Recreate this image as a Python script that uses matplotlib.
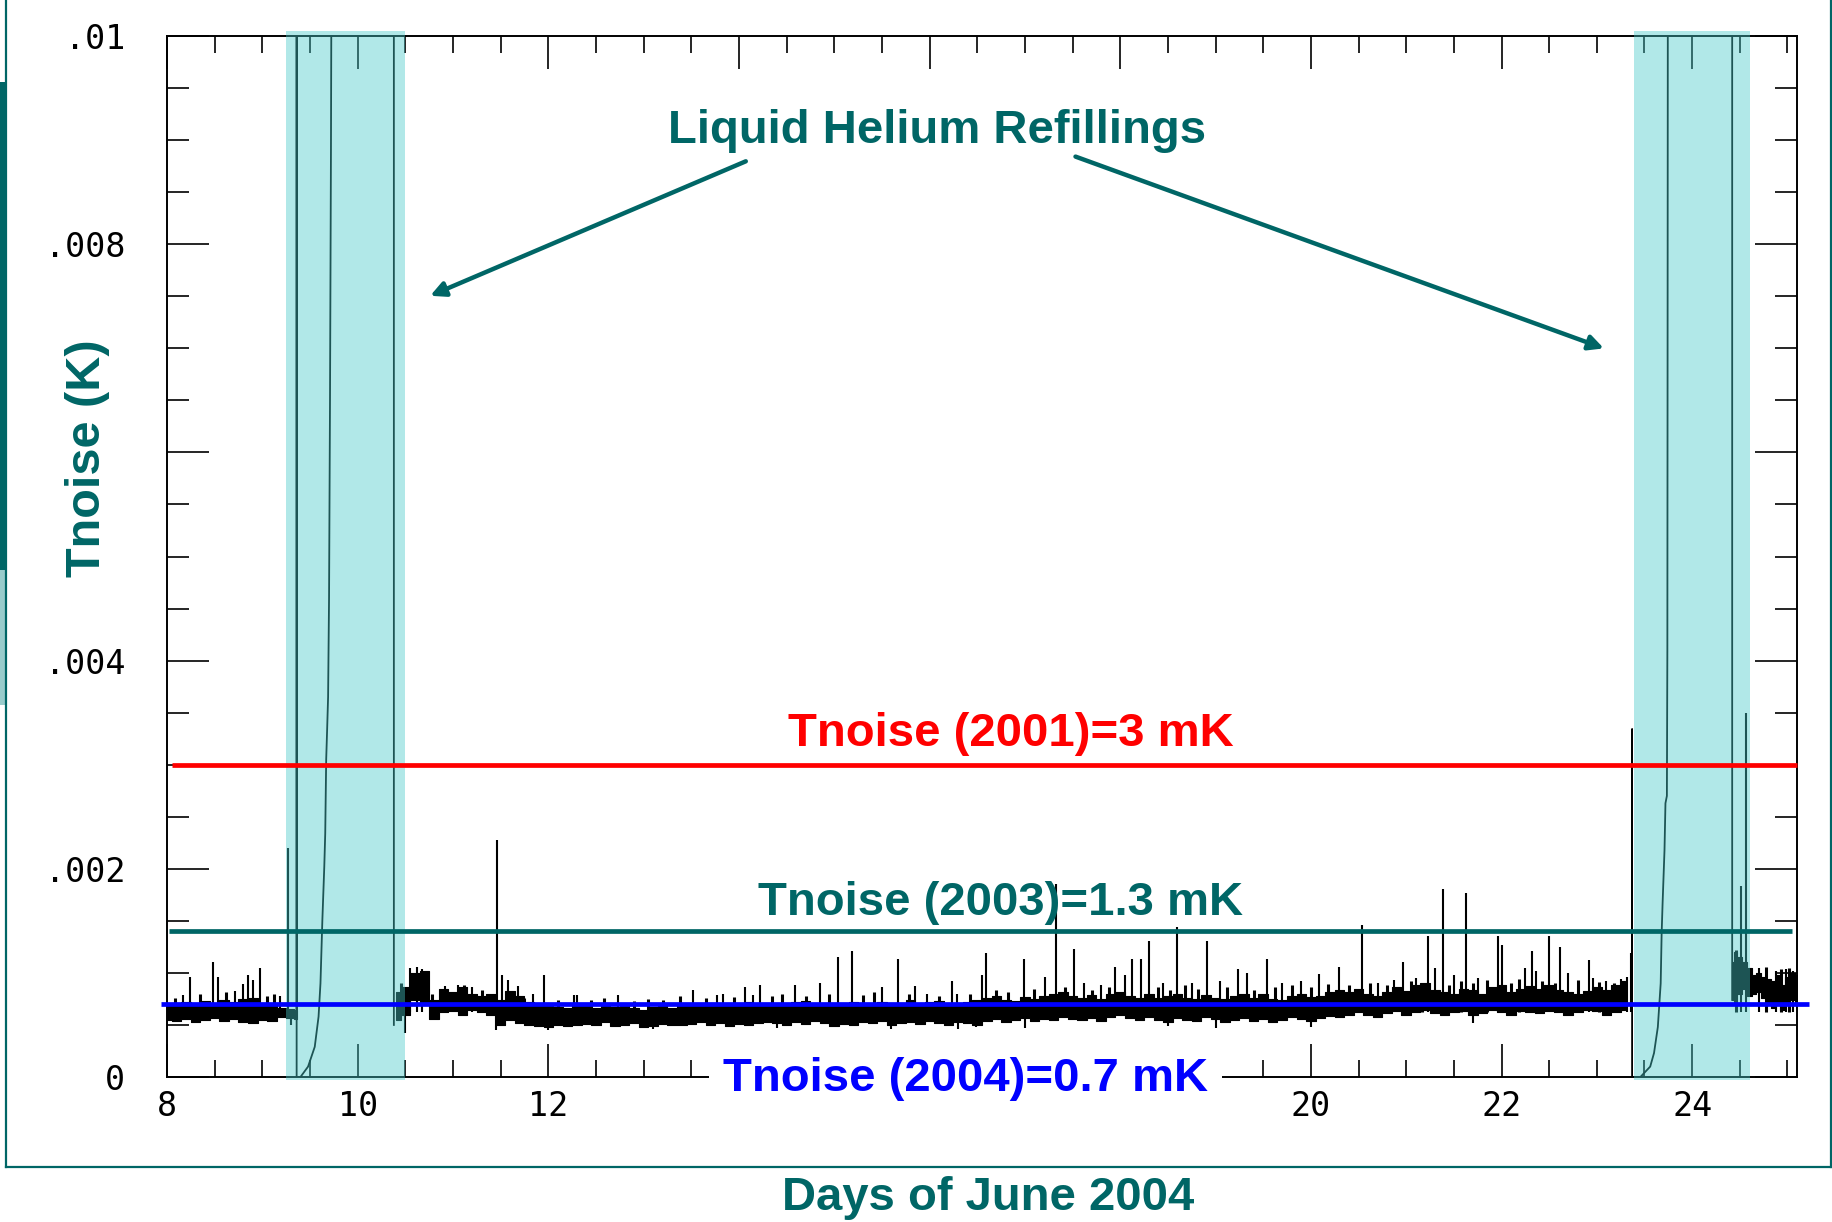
import matplotlib
matplotlib.use('Agg')
import matplotlib.pyplot as plt
import numpy as np
from matplotlib.patches import Rectangle
from matplotlib.lines import Line2D
import matplotlib.transforms as mtransforms

# ---------------- data (temperatures in mK, days of June 2004) ----------------
segA_days = [8.0, 8.1, 8.2, 8.3, 8.4, 8.5, 8.6, 8.7, 8.8, 8.9, 9.0, 9.1, 9.2, 9.3, 9.36]
segA_lo = [0.55, 0.54, 0.56, 0.53, 0.55, 0.57, 0.54, 0.56, 0.53, 0.52, 0.55, 0.54, 0.58, 0.57, 0.56]
segA_hi = [0.68, 0.70, 0.72, 0.69, 0.73, 0.71, 0.74, 0.72, 0.75, 0.76, 0.70, 0.68, 0.66, 0.65, 0.64]

segB_start, segB_step = 10.4, 0.1
segB_lo = [0.55, 0.60, 0.74, 0.70, 0.56, 0.62, 0.63, 0.60, 0.64, 0.62,
           0.60, 0.50, 0.55, 0.52, 0.50, 0.49, 0.48, 0.50, 0.49, 0.50,
           0.51, 0.50, 0.53, 0.49, 0.50, 0.52, 0.48, 0.49, 0.51, 0.50,
           0.50, 0.51, 0.53, 0.50, 0.52, 0.49, 0.51, 0.50, 0.52, 0.53,
           0.52, 0.50, 0.53, 0.51, 0.54, 0.52, 0.49, 0.51, 0.50, 0.53,
           0.52, 0.54, 0.50, 0.52, 0.53, 0.51, 0.54, 0.52, 0.50, 0.53,
           0.52, 0.50, 0.54, 0.56, 0.53, 0.55, 0.57, 0.54, 0.56, 0.55,
           0.58, 0.56, 0.55, 0.57, 0.54, 0.58, 0.60, 0.57, 0.55, 0.58,
           0.55, 0.53, 0.57, 0.55, 0.54, 0.58, 0.56, 0.53, 0.55, 0.57,
           0.54, 0.56, 0.53, 0.55, 0.58, 0.56, 0.54, 0.57, 0.59, 0.58,
           0.60, 0.62, 0.60, 0.58, 0.61, 0.63, 0.60, 0.62, 0.64, 0.61,
           0.60, 0.62, 0.63, 0.60, 0.61, 0.64, 0.62, 0.60, 0.63, 0.62,
           0.61, 0.63, 0.62, 0.60, 0.62, 0.64, 0.63, 0.60, 0.62, 0.64]
segB_hi = [0.82, 0.86, 1.00, 1.02, 0.74, 0.85, 0.82, 0.86, 0.80, 0.78,
           0.80, 0.74, 0.83, 0.78, 0.72, 0.70, 0.68, 0.67, 0.66, 0.69,
           0.68, 0.66, 0.69, 0.67, 0.70, 0.66, 0.64, 0.67, 0.68, 0.66,
           0.69, 0.70, 0.68, 0.71, 0.69, 0.68, 0.70, 0.72, 0.70, 0.69,
           0.70, 0.68, 0.72, 0.73, 0.70, 0.69, 0.71, 0.70, 0.72, 0.68,
           0.70, 0.72, 0.69, 0.71, 0.74, 0.70, 0.72, 0.73, 0.70, 0.71,
           0.72, 0.74, 0.76, 0.78, 0.74, 0.73, 0.77, 0.75, 0.78, 0.80,
           0.82, 0.78, 0.76, 0.79, 0.75, 0.80, 0.82, 0.78, 0.76, 0.80,
           0.76, 0.78, 0.80, 0.76, 0.75, 0.79, 0.76, 0.75, 0.78, 0.80,
           0.76, 0.80, 0.75, 0.74, 0.78, 0.80, 0.77, 0.78, 0.82, 0.84,
           0.82, 0.85, 0.80, 0.78, 0.82, 0.86, 0.83, 0.88, 0.90, 0.84,
           0.82, 0.80, 0.85, 0.84, 0.80, 0.86, 0.88, 0.82, 0.85, 0.87,
           0.85, 0.88, 0.84, 0.82, 0.80, 0.83, 0.86, 0.84, 0.88, 0.92]

segC_days = [24.42, 24.45, 24.5, 24.55, 24.6, 24.65, 24.7, 24.75, 24.8, 24.85, 24.9, 24.95, 25.0, 25.05, 25.1]
segC_lo = [0.74, 0.72, 0.80, 0.85, 0.78, 0.80, 0.82, 0.76, 0.70, 0.66, 0.72, 0.64, 0.70, 0.74, 0.72]
segC_hi = [1.10, 1.20, 1.15, 1.10, 1.05, 0.98, 1.00, 0.96, 0.94, 0.92, 0.98, 0.88, 0.96, 1.00, 0.98]

spike_days = [8.17, 8.24, 8.48, 8.53, 8.71, 8.80, 8.85, 8.90, 8.98, 9.19, 9.27,
              10.55, 10.62, 10.68, 10.92, 11.05, 11.20, 11.46, 11.51, 11.58, 11.68, 11.84,
              11.96, 12.27, 12.30, 12.73, 13.52, 13.77, 13.83, 14.06, 14.15, 14.22, 14.59,
              14.85, 15.04, 15.19, 15.50, 15.67, 15.85, 15.97, 16.24, 16.29, 16.55, 16.59,
              16.99, 17.21, 17.33, 17.51, 17.62, 17.80, 17.95, 18.05, 18.12, 18.22, 18.30,
              18.45, 18.60, 18.75, 18.91, 19.05, 19.24, 19.33, 19.54, 19.70, 19.90, 20.09,
              20.29, 20.54, 20.70, 20.87, 20.97, 21.10, 21.23, 21.30, 21.39, 21.50, 21.63,
              21.75, 21.96, 22.01, 22.25, 22.32, 22.36, 22.50, 22.61, 22.70, 22.92, 22.96,
              23.10, 23.25, 23.32, 23.36,
              24.51, 24.57, 24.70, 24.88, 24.98, 25.06]
spike_peaks = [0.79, 0.96, 1.10, 0.96, 0.83, 0.89, 0.98, 0.93, 1.05, 0.78, 2.20,
               1.05, 1.06, 1.04, 0.87, 0.88, 0.86, 2.28, 0.98, 0.93, 0.87, 0.80,
               0.98, 0.79, 0.79, 0.79, 0.84, 0.79, 0.80, 0.86, 0.79, 0.88, 0.88,
               0.90, 1.15, 1.21, 0.86, 1.13, 0.87, 0.80, 0.92, 0.80, 0.98, 1.19,
               1.13, 0.96, 1.85, 1.23, 0.90, 0.88, 1.06, 0.98, 1.13, 1.13, 1.31,
               0.90, 1.44, 0.90, 1.31, 0.92, 1.04, 1.00, 1.13, 0.90, 0.92, 0.99,
               1.06, 1.46, 0.90, 0.93, 1.10, 0.95, 1.35, 1.05, 1.81, 0.98, 1.77,
               0.95, 1.35, 1.27, 1.05, 1.21, 1.02, 1.35, 1.25, 1.00, 1.12, 0.95,
               0.92, 0.94, 0.96, 1.19,
               1.83, 3.50, 1.05, 1.02, 1.04, 1.02]

# small fuzz spikes on top of the noise band
fuzz_days = [8.08, 8.35, 8.62, 9.05, 9.12, 10.45, 10.78, 11.12, 11.30, 11.75, 12.10, 12.45,
             12.58, 12.90, 13.05, 13.20, 13.38, 13.65, 13.95, 14.35, 14.45, 14.70, 14.95,
             15.30, 15.42, 15.78, 16.10, 16.42, 16.70, 16.82, 17.10, 17.42, 17.70, 17.88,
             18.40, 18.52, 18.68, 18.82, 19.12, 19.40, 19.62, 19.80, 20.00, 20.18, 20.40,
             20.62, 20.80, 21.05, 21.17, 21.45, 21.57, 21.70, 21.85, 22.10, 22.18, 22.42,
             22.56, 22.80, 23.02, 23.18, 24.46, 24.78, 24.93, 25.02]
fuzz_peaks = [0.76, 0.80, 0.82, 0.78, 0.80, 0.90, 0.80, 0.88, 0.84, 0.76, 0.74, 0.74,
              0.76, 0.73, 0.75, 0.74, 0.78, 0.76, 0.77, 0.78, 0.80, 0.78, 0.80,
              0.79, 0.82, 0.80, 0.78, 0.80, 0.84, 0.82, 0.85, 0.86, 0.84, 0.86,
              0.86, 0.84, 0.88, 0.85, 0.86, 0.84, 0.86, 0.88, 0.86, 0.89, 0.88,
              0.90, 0.88, 0.92, 0.90, 0.88, 0.92, 0.90, 0.93, 0.90, 0.94, 0.92,
              0.90, 0.93, 0.91, 0.90, 1.22, 1.06, 1.04, 1.05]

dip_days = [9.30, 10.50, 11.45, 12.00, 13.10, 14.40, 15.60, 16.30, 16.49, 17.00, 18.50,
            19.00, 20.00, 21.70, 24.85]
dip_vals = [0.50, 0.42, 0.45, 0.45, 0.46, 0.47, 0.46, 0.46, 0.48, 0.47, 0.49,
            0.47, 0.48, 0.52, 0.60]

refill1_days = [9.36, 9.36, 9.36, 9.40, 9.48, 9.55, 9.59, 9.61, 9.63, 9.65, 9.66, 9.67,
                9.68, 9.69, 9.70, 9.71, 9.72, 9.725, 10.38, 10.38]
refill1_vals = [0.60, 10.5, 0.0, 0.0, 0.10, 0.29, 0.58, 0.90, 1.51, 2.02, 2.34, 3.05,
                3.34, 3.65, 4.60, 6.50, 8.90, 10.5, 10.5, 0.50]
refill2_days = [23.37, 23.37, 23.37, 23.457, 23.56, 23.60, 23.64, 23.67, 23.68, 23.69,
                23.71, 23.72, 23.735, 23.74, 23.742, 23.745, 24.42, 24.42]
refill2_vals = [0.90, 3.34, 0.0, 0.0, 0.10, 0.23, 0.48, 0.90, 1.38, 1.67,
                2.18, 2.63, 2.70, 4.10, 6.50, 10.5, 10.5, 0.74]

refill_spans = [(9.25, 10.50), (23.39, 24.61)]

ref_levels = [3.0, 1.4, 0.7]          # mK
ref_colors = ['#ff0000', '#006666', '#0000ff']
ref_extent = [(8.05, 25.10), (8.02, 25.05), (7.94, 25.23)]
ref_labels = ['Tnoise (2001)=3 mK', 'Tnoise (2003)=1.3 mK', 'Tnoise (2004)=0.7 mK']

xticks_major = [8, 10, 12, 14, 16, 18, 20, 22, 24]
xtick_labels = ['8', '10', '12', '', '', '', '20', '22', '24']
yticks_major = [0, 0.002, 0.004, 0.006, 0.008, 0.01]
ytick_labels = ['0', '.002', '.004', '', '.008', '.01']

# ---------------- drawing ----------------
TEAL = '#006666'
K = 1e-3
W, H = 1833, 1222
fig = plt.figure(figsize=(W / 100, H / 100), dpi=100)
ax = fig.add_axes([167 / W, 1 - 1077 / H, (1797 - 167) / W, (1077 - 36) / H])

segB_days = np.round(segB_start + segB_step * np.arange(len(segB_lo)), 3)
for d, lo, hi in [(segA_days, segA_lo, segA_hi), (segB_days, segB_lo, segB_hi),
                  (segC_days, segC_lo, segC_hi)]:
    ax.fill_between(np.asarray(d), np.asarray(lo) * K, np.asarray(hi) * K, step='mid',
                    color='black', lw=0.8, zorder=2)
ax.vlines(spike_days, 0.62 * K, np.asarray(spike_peaks) * K, color='black', lw=1.5, zorder=2)
ax.vlines(fuzz_days, 0.62 * K, np.asarray(fuzz_peaks) * K, color='black', lw=2.2, zorder=2)
ax.vlines(dip_days, 0.60 * K, np.asarray(dip_vals) * K, color='black', lw=1.5, zorder=2)
ax.plot(refill1_days, np.asarray(refill1_vals) * K, color='black', lw=1.3, zorder=2)
ax.plot(refill2_days, np.asarray(refill2_vals) * K, color='black', lw=1.3, zorder=2)

blend = mtransforms.blended_transform_factory(ax.transData, ax.transAxes)
for a, b in refill_spans:
    ax.add_patch(Rectangle((a, -0.003), b - a, 1.008, transform=blend, facecolor='#47caca',
                           alpha=0.42, edgecolor='none', zorder=3, clip_on=False))

for lvl, col, (x0, x1) in zip(ref_levels, ref_colors, ref_extent):
    ax.plot([x0, x1], [lvl * K, lvl * K], color=col, lw=3.4, zorder=4, clip_on=False,
            solid_capstyle='butt')

ax.set_xlim(8, 25.1)
ax.set_ylim(0, 0.01)
ax.set_xticks(xticks_major)
ax.set_xticks(np.arange(8, 25.01, 0.5), minor=True)
ax.set_yticks(yticks_major)
ax.set_yticks(np.arange(0, 0.01001, 0.0005), minor=True)
ax.set_xticklabels(xtick_labels, fontfamily='DejaVu Sans Mono', fontsize=24)
ax.set_yticklabels(ytick_labels, fontfamily='DejaVu Sans Mono', fontsize=24)
ax.tick_params(which='both', direction='in', top=True, right=True, color='black', width=1.2)
ax.tick_params(axis='x', which='major', length=24, pad=9)
ax.tick_params(axis='x', which='minor', length=12)
ax.tick_params(axis='y', which='major', length=30, pad=30)
ax.tick_params(axis='y', which='minor', length=16)
for s in ax.spines.values():
    s.set_linewidth(1.4)

fam = ['Liberation Sans', 'DejaVu Sans']
def ftxt(xp, yp, s, col, **kw):
    return fig.text(xp / W, 1 - yp / H, s, color=col, fontsize=34, fontweight='bold',
                    family=fam, ha='center', va='baseline', zorder=6, **kw)

ftxt(937.5, 142.6, 'Liquid Helium Refillings', TEAL)
ftxt(1011, 746, ref_labels[0], ref_colors[0])
ftxt(1000.7, 915, ref_labels[1], ref_colors[1])
ftxt(965.6, 1091, ref_labels[2], ref_colors[2],
     bbox=dict(boxstyle='square,pad=0.3', fc='white', ec='none'))
ftxt(987.8, 1210, 'Days of June 2004', TEAL)
fig.text(87.7 / W, 1 - 458 / H, 'Tnoise (K)', color=TEAL, fontsize=35, fontweight='bold',
         family=fam, ha='center', va='center', rotation=90)

# arrows (figure pixels, origin bottom-left)
for (x0, y0), (x1, y1) in [((745.8, 161.3), (430.2, 295.8)), ((1075.5, 156.6), (1603.9, 348.4))]:
    ax.annotate('', xy=(x1, H - y1), xycoords='figure pixels', xytext=(x0, H - y0),
                textcoords='figure pixels',
                arrowprops=dict(arrowstyle='-|>', lw=3.2, color=TEAL, mutation_scale=22,
                                shrinkA=0, shrinkB=0), annotation_clip=False)

# slide frame decoration
fig.add_artist(Line2D([6 / W, 6 / W], [1, 1 - 1167 / H], color=TEAL, lw=1.6))
fig.add_artist(Line2D([6 / W, 1831 / W], [1 - 1167 / H, 1 - 1167 / H], color=TEAL, lw=1.6))
fig.add_artist(Line2D([1831 / W, 1831 / W], [1, 1 - 1167 / H], color=TEAL, lw=1.6))
fig.add_artist(Rectangle((0, 1 - 570 / H), 7 / W, (570 - 82) / H, transform=fig.transFigure,
                         facecolor=TEAL, edgecolor='none'))
fig.add_artist(Rectangle((0, 1 - 705 / H), 7 / W, (705 - 570) / H, transform=fig.transFigure,
                         facecolor='#99cccc', edgecolor='none'))

fig.savefig('out.png', dpi=100)
